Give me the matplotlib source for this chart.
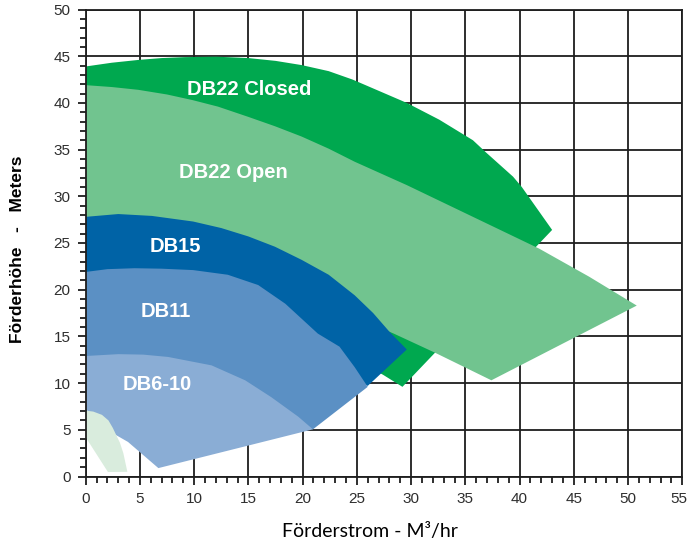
import matplotlib
matplotlib.use("Agg")
import matplotlib.pyplot as plt
from matplotlib.patches import Polygon
from matplotlib.ticker import MultipleLocator
from matplotlib.transforms import ScaledTranslation

# ---- data ----
closed_x = [0, 2.4, 4.85, 7, 9.15, 12, 15, 17.5, 19.9, 22.4, 24.6, 26.2, 29.6, 32.6, 35.7, 36.9, 39.4, 40.2, 43.0, 29.2, 27.4, 24, 0]
closed_y = [43.9, 44.3, 44.6, 44.8, 44.9, 44.95, 44.8, 44.5, 44.05, 43.4, 42.5, 41.7, 40.0, 38.2, 36.0, 34.7, 32.1, 31.0, 26.4, 9.6, 10.9, 13, 25]

open_x = [0, 2.4, 4.85, 7.5, 9.85, 12.2, 15, 17.45, 19.9, 22.4, 24.8, 29.6, 35.7, 41.8, 46.4, 50.8, 37.4, 32.3, 28.4, 24, 15, 0]
open_y = [41.9, 41.7, 41.4, 40.9, 40.3, 39.6, 38.5, 37.5, 36.4, 35.1, 33.7, 31.2, 27.8, 24.4, 21.4, 18.3, 10.3, 13.2, 15.3, 17.5, 22, 26]

db15_x = [0, 3, 6.1, 9.9, 12.5, 15, 17.45, 19.9, 22.4, 24.8, 26.5, 28.0, 29.6, 26.0, 22, 0]
db15_y = [27.8, 28.1, 27.9, 27.3, 26.6, 25.7, 24.6, 23.2, 21.6, 19.4, 17.5, 15.5, 13.6, 9.7, 12, 18]

db11_x = [0, 2, 4.5, 7, 9.9, 13.1, 15.9, 18.4, 21.4, 23.4, 24.8, 26.0, 20.95, 10, 0]
db11_y = [21.9, 22.2, 22.3, 22.25, 22.1, 21.6, 20.5, 18.5, 15.3, 13.9, 11.7, 9.6, 5.05, 8, 10]

db610_x = [0, 3, 5.3, 7.6, 11.6, 14.7, 17.1, 19.6, 20.95, 6.7, 4.8, 3.9, 2.7, 0]
db610_y = [12.9, 13.1, 13.05, 12.8, 11.9, 10.3, 8.5, 6.4, 5.05, 0.9, 2.8, 3.7, 4.5, 7.2]

tiny_x = [0, 0.7, 1.5, 2.1, 2.5, 3.16, 3.47, 3.84, 2.05, 0]
tiny_y = [7.05, 6.95, 6.6, 6.0, 5.2, 3.6, 2.5, 0.5, 0.48, 4.2]

areas = [
    ("DB22 Closed", closed_x, closed_y, "#00A84F", (15.1, 41.4)),
    ("DB22 Open", open_x, open_y, "#71C48F", (13.6, 32.5)),
    ("DB15", db15_x, db15_y, "#0063A6", (8.3, 24.6)),
    ("DB11", db11_x, db11_y, "#5B90C4", (7.4, 17.7)),
    ("DB6-10", db610_x, db610_y, "#8AADD5", (6.6, 9.9)),
    ("", tiny_x, tiny_y, "#D9ECDD", None),
]

x_ticks = list(range(0, 56, 5))
y_ticks = list(range(0, 51, 5))

fig = plt.figure(figsize=(6.89, 5.46), dpi=100)
ax = fig.add_axes([85.7 / 689, 1 - 476.5 / 546, (682.3 - 85.7) / 689, (476.5 - 9.5) / 546])
ax.set_xlim(0, 55)
ax.set_ylim(0, 50)
ax.set_axisbelow(True)
ax.grid(True, which="major", color="#1e1e1e", linewidth=1.3)

for name, xs, ys, col, lab in areas:
    ax.add_patch(Polygon(list(zip(xs, ys)), closed=True, facecolor=col, edgecolor="none", zorder=1))
    if lab is not None:
        ax.text(lab[0], lab[1], name, color="white", fontsize=14.5, fontweight="bold",
                family="Liberation Sans", ha="center", va="center", zorder=3)

ax.set_xticks(x_ticks)
ax.set_yticks(y_ticks)
ax.xaxis.set_minor_locator(MultipleLocator(1))
ax.yaxis.set_minor_locator(MultipleLocator(1))
ax.tick_params(which="major", direction="out", length=6, width=1.3, color="#1e1e1e",
               labelsize=11, labelcolor="#2e2e2e", pad=5)
ax.tick_params(which="minor", direction="out", length=4, width=1.3, color="#1e1e1e")
for lbl in ax.get_xticklabels() + ax.get_yticklabels():
    lbl.set_family("Liberation Sans")
last = ax.get_xticklabels()[-1]
last.set_transform(last.get_transform() + ScaledTranslation(-3 / 100, 0, fig.dpi_scale_trans))
for s in ax.spines.values():
    s.set_color("#1e1e1e")
    s.set_linewidth(1.3)
    s.set_zorder(2.5)

fig.text(370 / 689, 1 - 537 / 546, "Förderstrom - M³/hr", fontsize=14, family="Lato",
         ha="center", va="baseline", color="black")
fig.text(18 / 689, 1 - 249 / 546, "Förderhöhe   -   Meters", fontsize=12.5, fontweight="bold",
         family="Liberation Sans", rotation=90, ha="center", va="center", color="black")

fig.savefig("out.png", dpi=100)
